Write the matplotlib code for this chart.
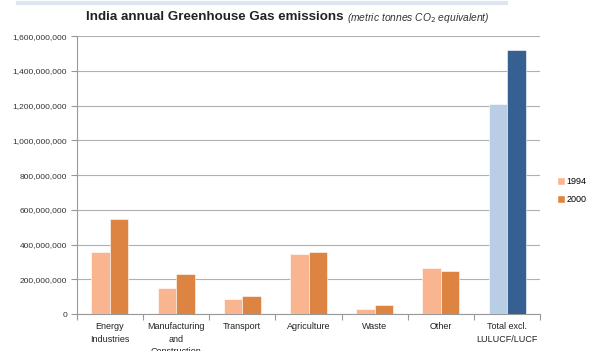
import matplotlib

matplotlib.use("Agg")
import matplotlib.pyplot as plt
import numpy as np
from matplotlib.ticker import FuncFormatter, MultipleLocator

plt.rcParams["font.family"] = ["Liberation Sans", "DejaVu Sans"]

categories = [
    "Energy\nIndustries",
    "Manufacturing\nand\nConstruction",
    "Transport",
    "Agriculture",
    "Waste",
    "Other",
    "Total excl.\nLULUCF/LUCF",
]
vals_1994 = [357e6, 150e6, 86e6, 345e6, 29e6, 265e6, 1212e6]
vals_2000 = [547e6, 230e6, 104e6, 357e6, 52e6, 247e6, 1520e6]

c94 = ["#F9B590"] * 6 + ["#B9CDE5"]
c00 = ["#DE8442"] * 6 + ["#376092"]

fig = plt.figure(figsize=(5.95, 3.51), dpi=100)
ax = fig.add_axes([0.129, 0.105, 0.779, 0.792])

x = np.arange(len(categories))
w = 0.28
ax.bar(x - w / 2, vals_1994, w, color=c94, edgecolor="white", linewidth=0.4, label="1994", zorder=3)
ax.bar(x + w / 2, vals_2000, w, color=c00, edgecolor="white", linewidth=0.4, label="2000", zorder=3)

ax.set_xlim(-0.5, len(categories) - 0.5)
ax.set_ylim(0, 1.6e9)
ax.yaxis.set_major_locator(MultipleLocator(2e8))
ax.yaxis.set_major_formatter(FuncFormatter(lambda v, _: f"{v:,.0f}"))
ax.grid(axis="y", color="#B0B0B0", linewidth=0.8, zorder=0)

ax.set_xticks(x)
ax.set_xticklabels(categories, fontsize=6.5, color="#222222", va="top", linespacing=1.45)
ax.set_xticks(np.arange(-0.5, len(categories)), minor=True)
ax.tick_params(axis="x", which="major", length=0, pad=6)
ax.tick_params(axis="x", which="minor", length=4, color="#999999", width=0.8)
ax.tick_params(axis="y", length=4, color="#999999", width=0.8, labelsize=6, labelcolor="#333333", pad=3)

for s in ["top", "right"]:
    ax.spines[s].set_visible(False)
for s in ["left", "bottom"]:
    ax.spines[s].set_color("#999999")
    ax.spines[s].set_linewidth(0.8)

leg = ax.legend(
    loc="center left",
    bbox_to_anchor=(1.02, 0.445),
    frameon=False,
    fontsize=6.5,
    handlelength=0.7,
    handleheight=0.7,
    handletextpad=0.3,
    labelspacing=1.0,
)
for h, c in zip(leg.legend_handles, ["#F9B590", "#DE8442"]):
    h.set_color(c)

# top border band
fig.add_artist(plt.Line2D([0.03, 0.85], [0.992, 0.992], color="#DCE6F2", linewidth=3))

# title: bold part followed by small italic unit note
t1 = fig.text(0.145, 0.952, "India annual Greenhouse Gas emissions", fontsize=9.6,
              fontweight="bold", color="#222222", va="center")
fig.canvas.draw()
bb = t1.get_window_extent()
x2 = (bb.x1 + 3) / fig.bbox.width
fig.text(x2, 0.950, "(metric tonnes CO$_2$ equivalent)", fontsize=7.4, style="italic",
         color="#333333", va="center")

fig.savefig("out.png", dpi=100)
